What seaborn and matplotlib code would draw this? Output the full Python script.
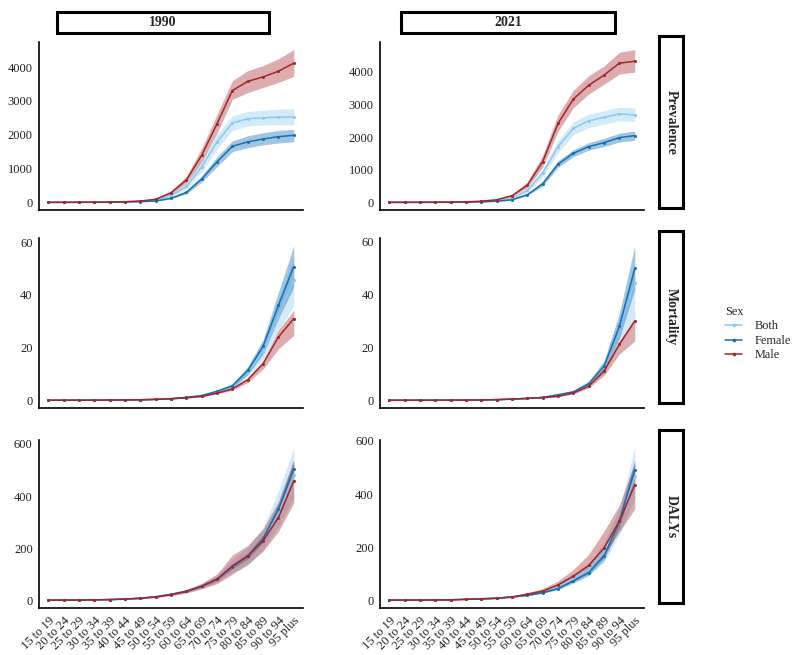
import numpy as np
import pandas as pd
import matplotlib
matplotlib.use("Agg")
import matplotlib.pyplot as plt
from matplotlib.patches import Rectangle
from matplotlib.lines import Line2D
import seaborn as sns

# ----------------------------------------------------------------------------
# Data
# ----------------------------------------------------------------------------
AGES = ["15 to 19", "20 to 24", "25 to 29", "30 to 34", "35 to 39", "40 to 44",
        "45 to 49", "50 to 54", "55 to 59", "60 to 64", "65 to 69", "70 to 74",
        "75 to 79", "80 to 84", "85 to 89", "90 to 94", "95 plus"]
YEARS = ["1990", "2021"]
MEASURES = ["Prevalence", "Mortality", "DALYs"]
SEXES = ["Both", "Female", "Male"]

# Prevalence 1990
PREV_1990_BOTH = [0.4, 1, 2, 4, 8, 15, 30, 65, 200, 470, 1050, 1790, 2350, 2475, 2500, 2525, 2525]
PREV_1990_BOTH_LO = [0.3, 0.7, 1.5, 3, 6, 12, 24, 55, 170, 400, 900, 1580, 2130, 2260, 2290, 2300, 2290]
PREV_1990_BOTH_HI = [0.6, 1.3, 3, 5, 10, 19, 37, 78, 235, 550, 1220, 2010, 2560, 2690, 2720, 2760, 2770]
PREV_1990_FEMALE = [0.3, 0.8, 2, 3, 6, 11, 22, 40, 120, 295, 690, 1200, 1660, 1790, 1875, 1945, 1985]
PREV_1990_FEMALE_LO = [0.2, 0.6, 1.5, 2.4, 5, 9, 18, 33, 100, 250, 600, 1060, 1500, 1620, 1700, 1760, 1790]
PREV_1990_FEMALE_HI = [0.4, 1, 2.6, 4, 8, 13, 27, 48, 145, 345, 790, 1350, 1820, 1970, 2060, 2130, 2160]
PREV_1990_MALE = [0.5, 1, 3, 5, 10, 20, 40, 90, 285, 660, 1395, 2330, 3310, 3580, 3715, 3880, 4120]
PREV_1990_MALE_LO = [0.3, 0.7, 2, 4, 8, 16, 32, 75, 240, 560, 1200, 2050, 3050, 3250, 3400, 3550, 3730]
PREV_1990_MALE_HI = [0.8, 1.4, 4, 7, 13, 25, 50, 110, 335, 770, 1600, 2600, 3600, 3900, 4050, 4250, 4520]

# Prevalence 2021
PREV_2021_BOTH = [0.4, 0.8, 2, 3, 6, 11, 25, 55, 130, 365, 900, 1710, 2270, 2500, 2605, 2710, 2680]
PREV_2021_BOTH_LO = [0.3, 0.6, 1.5, 2.4, 5, 9, 20, 46, 110, 310, 780, 1530, 2070, 2290, 2400, 2500, 2470]
PREV_2021_BOTH_HI = [0.5, 1, 2.5, 4, 7, 13, 30, 65, 152, 420, 1020, 1890, 2470, 2710, 2810, 2920, 2890]
PREV_2021_FEMALE = [0.3, 0.6, 1.5, 2.5, 5, 9, 18, 35, 80, 235, 570, 1170, 1505, 1710, 1830, 1985, 2045]
PREV_2021_FEMALE_LO = [0.2, 0.5, 1.2, 2, 4, 7, 15, 29, 68, 205, 500, 1070, 1400, 1600, 1710, 1850, 1900]
PREV_2021_FEMALE_HI = [0.4, 0.8, 1.9, 3, 6, 11, 22, 42, 94, 270, 650, 1280, 1610, 1830, 1960, 2120, 2190]
PREV_2021_MALE = [0.5, 1, 2, 4, 8, 15, 35, 80, 205, 530, 1250, 2420, 3165, 3590, 3900, 4265, 4325]
PREV_2021_MALE_LO = [0.3, 0.7, 1.5, 3, 6, 12, 28, 66, 175, 450, 1080, 2180, 2900, 3320, 3620, 3930, 3990]
PREV_2021_MALE_HI = [0.7, 1.3, 3, 5, 10, 19, 43, 96, 240, 620, 1440, 2680, 3430, 3880, 4180, 4600, 4680]

# Mortality 1990
MORT_1990_BOTH = [0.02, 0.03, 0.04, 0.06, 0.09, 0.13, 0.2, 0.35, 0.6, 1.1, 1.75, 3.2, 5.1, 10.7, 18.5, 32, 45.6]
MORT_1990_BOTH_LO = [0.01, 0.02, 0.03, 0.05, 0.07, 0.1, 0.16, 0.3, 0.5, 0.95, 1.5, 2.8, 4.4, 9.2, 15.5, 26, 36]
MORT_1990_BOTH_HI = [0.03, 0.04, 0.05, 0.07, 0.11, 0.16, 0.24, 0.42, 0.7, 1.3, 2.0, 3.6, 5.8, 12.2, 21.5, 38, 54]
MORT_1990_FEMALE = [0.02, 0.03, 0.04, 0.06, 0.09, 0.13, 0.2, 0.35, 0.6, 1.1, 1.8, 3.4, 5.5, 11.3, 20.5, 36, 50.7]
MORT_1990_FEMALE_LO = [0.01, 0.02, 0.03, 0.05, 0.07, 0.1, 0.16, 0.3, 0.5, 0.95, 1.5, 2.9, 4.7, 9.8, 17.5, 31, 43]
MORT_1990_FEMALE_HI = [0.03, 0.04, 0.05, 0.07, 0.11, 0.16, 0.24, 0.42, 0.7, 1.3, 2.1, 3.9, 6.3, 12.8, 23, 41, 58.6]
MORT_1990_MALE = [0.02, 0.03, 0.04, 0.06, 0.09, 0.13, 0.2, 0.35, 0.6, 0.95, 1.5, 2.7, 4.3, 7.8, 13.9, 24, 31]
MORT_1990_MALE_LO = [0.01, 0.02, 0.03, 0.05, 0.07, 0.1, 0.16, 0.3, 0.5, 0.8, 1.3, 2.4, 3.8, 6.8, 11.8, 19.5, 24.6]
MORT_1990_MALE_HI = [0.03, 0.04, 0.05, 0.07, 0.11, 0.16, 0.24, 0.42, 0.7, 1.1, 1.7, 3.0, 4.8, 8.6, 15, 26.5, 34.2]

# Mortality 2021
MORT_2021_BOTH = [0.01, 0.02, 0.03, 0.04, 0.06, 0.09, 0.14, 0.25, 0.45, 0.75, 1.1, 2.0, 3.1, 6.1, 12.6, 27.8, 44.4]
MORT_2021_BOTH_LO = [0.01, 0.01, 0.02, 0.03, 0.05, 0.07, 0.11, 0.2, 0.38, 0.64, 0.95, 1.7, 2.7, 5.2, 10.5, 21, 31]
MORT_2021_BOTH_HI = [0.02, 0.03, 0.04, 0.05, 0.07, 0.11, 0.17, 0.3, 0.52, 0.86, 1.3, 2.4, 3.6, 7.0, 14.5, 31, 52]
MORT_2021_FEMALE = [0.01, 0.02, 0.03, 0.04, 0.06, 0.09, 0.14, 0.25, 0.45, 0.75, 1.1, 2.1, 3.2, 6.3, 12.9, 28, 49.9]
MORT_2021_FEMALE_LO = [0.01, 0.01, 0.02, 0.03, 0.05, 0.07, 0.11, 0.2, 0.38, 0.64, 0.95, 1.8, 2.8, 5.5, 11, 23.5, 42]
MORT_2021_FEMALE_HI = [0.02, 0.03, 0.04, 0.05, 0.07, 0.11, 0.17, 0.3, 0.52, 0.86, 1.25, 2.4, 3.7, 7.2, 15, 33, 58.5]
MORT_2021_MALE = [0.01, 0.02, 0.03, 0.04, 0.06, 0.09, 0.14, 0.25, 0.45, 0.7, 1.0, 1.5, 2.8, 5.4, 11.1, 21.2, 30]
MORT_2021_MALE_LO = [0.01, 0.01, 0.02, 0.03, 0.05, 0.07, 0.11, 0.2, 0.38, 0.6, 0.85, 1.3, 2.4, 4.7, 9.4, 17.5, 22.5]
MORT_2021_MALE_HI = [0.02, 0.03, 0.04, 0.05, 0.07, 0.11, 0.17, 0.3, 0.52, 0.8, 1.15, 1.75, 3.1, 5.9, 12, 22.5, 31]

# DALYs 1990
DALY_1990_BOTH = [3, 3, 3, 4, 5, 7, 10, 16, 25, 37, 57, 83, 132, 171, 234, 335, 480]
DALY_1990_BOTH_LO = [2.3, 2.5, 2.6, 3.4, 4.2, 6, 8.5, 13, 21, 31, 48, 70, 110, 135, 195, 285, 392]
DALY_1990_BOTH_HI = [3.7, 3.7, 3.7, 4.8, 6, 8.4, 12, 19, 30, 44, 67, 98, 160, 205, 280, 420, 585]
DALY_1990_FEMALE = [3, 3, 3, 4, 5, 7, 10, 16, 25, 37, 56, 83, 131, 171, 237, 349, 505]
DALY_1990_FEMALE_LO = [2.7, 2.7, 2.8, 3.7, 4.6, 6.5, 9.3, 14.8, 23, 34, 52, 77, 122, 160, 222, 328, 478]
DALY_1990_FEMALE_HI = [3.3, 3.3, 3.3, 4.4, 5.5, 7.6, 11, 17.5, 27, 40, 61, 89, 141, 183, 252, 370, 535]
DALY_1990_MALE = [2.5, 3, 3, 4, 5, 7, 10, 15, 24, 36, 56, 83, 133, 171, 230, 318, 458]
DALY_1990_MALE_LO = [2, 2.4, 2.5, 3.3, 4, 5.8, 8, 12.5, 20, 30, 46, 66, 102, 140, 190, 265, 375]
DALY_1990_MALE_HI = [3.1, 3.6, 3.8, 4.8, 6, 8.4, 12, 18, 29, 43, 67, 103, 175, 212, 275, 380, 540]

# DALYs 2021
DALY_2021_BOTH = [2.8, 3, 3, 3.5, 4, 6, 8, 10, 15, 23, 34, 52, 83, 118, 182, 299, 468]
DALY_2021_BOTH_LO = [2.3, 2.5, 2.5, 2.9, 3.3, 5, 6.5, 8.2, 12.5, 19, 28, 43, 66, 95, 145, 250, 385]
DALY_2021_BOTH_HI = [3.4, 3.6, 3.6, 4.2, 4.8, 7.2, 9.5, 12, 18, 28, 41, 63, 100, 140, 220, 345, 575]
DALY_2021_FEMALE = [3, 3, 3, 3.5, 4, 6, 8, 10, 15, 21, 31, 46, 75, 106, 168, 299, 492]
DALY_2021_FEMALE_LO = [2.7, 2.7, 2.7, 3.2, 3.7, 5.5, 7.4, 9.2, 13.8, 19.3, 28.5, 42.5, 69, 97, 154, 278, 462]
DALY_2021_FEMALE_HI = [3.3, 3.3, 3.3, 3.9, 4.4, 6.6, 8.8, 11, 16.5, 23, 34, 50, 82, 116, 184, 322, 530]
DALY_2021_MALE = [2.5, 3, 3, 3.5, 4, 6, 7.5, 10, 15, 25, 37, 60, 93, 133, 199, 299, 436]
DALY_2021_MALE_LO = [2, 2.4, 2.4, 2.9, 3.3, 5, 6.2, 8.2, 12.5, 21, 31, 50, 78, 115, 172, 260, 345]
DALY_2021_MALE_HI = [3.1, 3.6, 3.6, 4.2, 4.8, 7.2, 9, 12, 18, 31, 46, 75, 118, 175, 262, 360, 520]

MEASURE_KEYS = {"Prevalence": "PREV", "Mortality": "MORT", "DALYs": "DALY"}
Y_TICKS = {"Prevalence": [0, 1000, 2000, 3000, 4000],
           "Mortality": [0, 20, 40, 60],
           "DALYs": [0, 200, 400, 600]}

COLORS = {"Both": "#8cc8ef", "Female": "#1570b3", "Male": "#a3262a"}
BAND_ALPHA = {"Both": 0.38, "Female": 0.4, "Male": 0.38}

# ----------------------------------------------------------------------------
# Layout helpers (pixel positions in an 800x655 canvas)
# ----------------------------------------------------------------------------
W, H = 800, 655
COL_X = [(39, 303), (380, 644)]
ROW_Y = [(42, 210), (238, 408), (440, 608)]
TOP_STRIPS = [(57, 269), (401, 615)]
TOP_STRIP_Y = (12, 33)
RIGHT_STRIP_X = (659, 683)
RIGHT_STRIPS = [(36, 208), (231, 403), (430, 603)]
TICK_SIZE = 9.0
STRIP_SIZE = 10.0
LEGEND_SIZE = 8.8


def fig_rect(x0, y0, x1, y1):
    return [x0 / W, 1 - y1 / H, (x1 - x0) / W, (y1 - y0) / H]


def get_series(measure, year, sex):
    base = f"{MEASURE_KEYS[measure]}_{year}_{sex.upper()}"
    g = globals()
    return g[base], g[base + "_LO"], g[base + "_HI"]


def draw_panel(ax, measure, year, show_xlabels):
    rows = []
    for sex in SEXES:
        val, lo, hi = get_series(measure, year, sex)
        for i, age in enumerate(AGES):
            rows.append({"Age": i, "Sex": sex, "val": val[i], "lo": lo[i], "hi": hi[i]})
    df = pd.DataFrame(rows)

    for sex in SEXES:
        sub = df[df["Sex"] == sex]
        ax.fill_between(sub["Age"], sub["lo"], sub["hi"], color=COLORS[sex],
                        alpha=BAND_ALPHA[sex], linewidth=0)
    sns.lineplot(data=df, x="Age", y="val", hue="Sex", hue_order=SEXES,
                 palette=COLORS, marker="o", markersize=2.2, markeredgewidth=0,
                 linewidth=1.1, legend=False, ax=ax)

    ax.set_xlim(-0.6, len(AGES) - 0.4)
    ax.margins(y=0.05)
    ax.set_xticks(range(len(AGES)))
    if show_xlabels:
        ax.set_xticklabels(AGES, rotation=45, ha="right", rotation_mode="anchor")
    else:
        ax.set_xticklabels([])
    ax.set_yticks(Y_TICKS[measure])
    ax.set_xlabel("")
    ax.set_ylabel("")
    for side in ["top", "right"]:
        ax.spines[side].set_visible(False)
    for side in ["left", "bottom"]:
        ax.spines[side].set_linewidth(1.2)
        ax.spines[side].set_color("black")
    ax.tick_params(length=3, width=0.8, color="#333333", labelcolor="#222222",
                   labelsize=TICK_SIZE, pad=1.5)


def main():
    sns.set_theme(style="white")
    plt.rcParams["font.family"] = ["Liberation Serif", "DejaVu Serif"]

    fig = plt.figure(figsize=(W / 100, H / 100), dpi=100)

    for r, measure in enumerate(MEASURES):
        for c, year in enumerate(YEARS):
            x0, x1 = COL_X[c]
            y0, y1 = ROW_Y[r]
            ax = fig.add_axes(fig_rect(x0, y0, x1, y1))
            draw_panel(ax, measure, year, show_xlabels=(r == len(MEASURES) - 1))

    # top strips
    for (x0, x1), year in zip(TOP_STRIPS, YEARS):
        y0, y1 = TOP_STRIP_Y
        fig.add_artist(Rectangle((x0 / W, 1 - y1 / H), (x1 - x0) / W, (y1 - y0) / H,
                                 transform=fig.transFigure, facecolor="white",
                                 edgecolor="black", linewidth=2.2))
        fig.text((x0 + x1) / 2 / W, 1 - (y0 + y1) / 2 / H, year, ha="center",
                 va="center", fontsize=STRIP_SIZE, fontweight="bold")

    # right strips
    for (y0, y1), measure in zip(RIGHT_STRIPS, MEASURES):
        x0, x1 = RIGHT_STRIP_X
        fig.add_artist(Rectangle((x0 / W, 1 - y1 / H), (x1 - x0) / W, (y1 - y0) / H,
                                 transform=fig.transFigure, facecolor="white",
                                 edgecolor="black", linewidth=2.2))
        fig.text((x0 + x1) / 2 / W, 1 - (y0 + y1) / 2 / H, measure, ha="center",
                 va="center", rotation=270, fontsize=STRIP_SIZE, fontweight="bold")

    # legend
    handles = [Line2D([0], [0], color=COLORS[s], linewidth=1.1, marker="o",
                      markersize=2.6, markeredgewidth=0) for s in SEXES]
    fig.legend(handles, SEXES, title="Sex", loc="upper left",
               bbox_to_anchor=(714 / W, 1 - 295 / H), frameon=False,
               fontsize=LEGEND_SIZE, title_fontsize=LEGEND_SIZE, handlelength=1.4,
               handletextpad=1.0, labelspacing=0.2, alignment="left")

    fig.savefig("out.png", dpi=100)


if __name__ == "__main__":
    main()
